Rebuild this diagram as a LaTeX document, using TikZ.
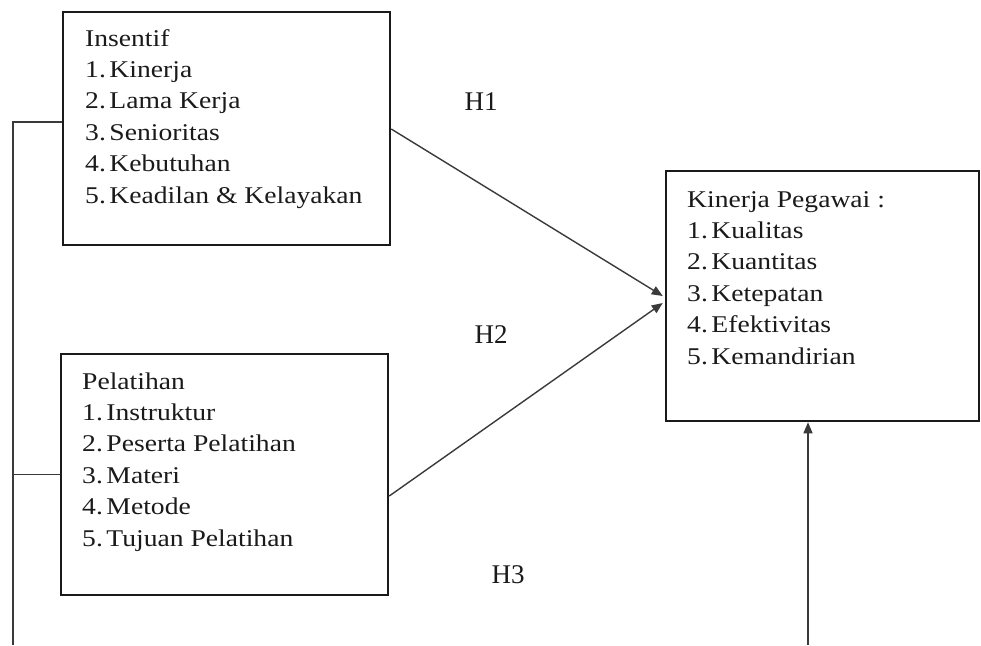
\documentclass[tikz,border=0pt]{standalone}
\usepackage{fontspec}
\setmainfont{Liberation Serif}
\newfontfamily\boxfont[FakeStretch=1.15]{Liberation Serif}
\usetikzlibrary{arrows.meta,calc}
\definecolor{ink}{HTML}{1A1A1A}
\definecolor{conn}{HTML}{3A3A3A}
\newcommand{\nsp}{\hspace{0.15em}}
\begin{document}
\begin{tikzpicture}[x=1pt,y=-1pt,
  frame/.style={draw=ink,line width=2.5pt,inner sep=0pt,minimum width=#1},
  boxtext/.style={anchor=base west,inner sep=0pt,text=ink,font=\boxfont\fontsize{24}{31.4}\selectfont},
  hlabel/.style={inner sep=0pt,text=ink,font=\fontsize{27}{30}\selectfont},
  conline/.style={draw=conn,line width=1.4pt},
  arr/.style={conline,-{Triangle[length=11pt,width=9pt]}}]
\useasboundingbox (0,0) rectangle (981,645);
% boxes
\node[frame=327pt,minimum height=233pt] (b1) at (226.5,128.5) {};
\node[frame=327pt,minimum height=241pt] (b2) at (224.5,474.5) {};
\node[frame=313pt,minimum height=250pt] (b3) at (822.5,296) {};
% texts
\node[boxtext] (t1) at (85,46) {\begin{tabular}[t]{@{}l@{}}Insentif\\1.\nsp Kinerja\\2.\nsp Lama Kerja\\3.\nsp Senioritas\\4.\nsp Kebutuhan\\5.\nsp Keadilan \& Kelayakan\end{tabular}};
\node[boxtext] (t2) at (82,389) {\begin{tabular}[t]{@{}l@{}}Pelatihan\\1.\nsp Instruktur\\2.\nsp Peserta Pelatihan\\3.\nsp Materi\\4.\nsp Metode\\5.\nsp Tujuan Pelatihan\end{tabular}};
\node[boxtext] (t3) at (687,207) {\begin{tabular}[t]{@{}l@{}}Kinerja Pegawai :\\1.\nsp Kualitas\\2.\nsp Kuantitas\\3.\nsp Ketepatan\\4.\nsp Efektivitas\\5.\nsp Kemandirian\end{tabular}};
% hypothesis labels
\node[hlabel] (h1) at (481,102) {H1};
\node[hlabel] (h2) at (491,335) {H2};
\node[hlabel] (h3) at (508,575) {H3};
% connectors
\coordinate (a1s) at ($(b1.east)+(0,0.5)$);
\coordinate (a1e) at ($(b3.west)+(-2,0)$);
\coordinate (a2s) at ($(b2.east)+(0,21.5)$);
\coordinate (a2e) at ($(b3.west)+(-2,7)$);
\draw[arr] (a1s) -- (a1e);
\draw[arr] (a2s) -- (a2e);
\coordinate (lb) at (13,645);
\coordinate (l1) at ($(b1.west)+(0,-6.5)$);
\draw[conline] (lb) |- (l1);
\draw[conline] (b2.west) -- (b2.west -| lb);
\coordinate (bb) at (808,645);
\draw[arr] (bb) -- (bb |- b3.south);
\end{tikzpicture}
\end{document}
